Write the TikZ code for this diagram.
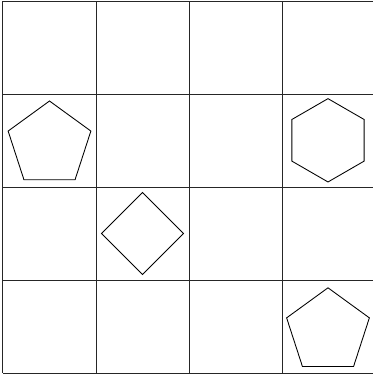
\documentclass[tikz,border=0pt]{standalone}
\usepackage{tikz}
\usetikzlibrary{shapes.geometric}

\tikzset{
    gridline/.style={line width=0.75pt, black!85},
    shapeline/.style={draw, line width=0.65pt, inner sep=0pt, regular polygon}
}

\begin{document}
\begin{tikzpicture}[x=0.75pt, y=-0.75pt]

% Frame
\useasboundingbox (0,0) rectangle (373,376);

% Grid
\foreach \gx in {3,96,189,282}
    \draw[gridline] (\gx,1) -- (\gx,373);
\foreach \gy in {1,94,187,280,373}
    \draw[gridline] (3,\gy) -- (373,\gy);

% Pentagon, second row
\node[shapeline, regular polygon sides=5, minimum size=65.25pt] (penta) at (49.5,144.5) {};

% Hexagon, second row
\node[shapeline, regular polygon sides=6, regular polygon rotate=30, minimum size=62.5pt] (hexa) at (328,140.3) {};

% Diamond, third row
\node[shapeline, regular polygon sides=4, regular polygon rotate=45, minimum size=61.5pt] (rhomb) at (142.5,233.5) {};

% Pentagon, last row
\node[shapeline, regular polygon sides=5, minimum size=65.25pt] (pentb) at (328,331.3) {};

\end{tikzpicture}
\end{document}
